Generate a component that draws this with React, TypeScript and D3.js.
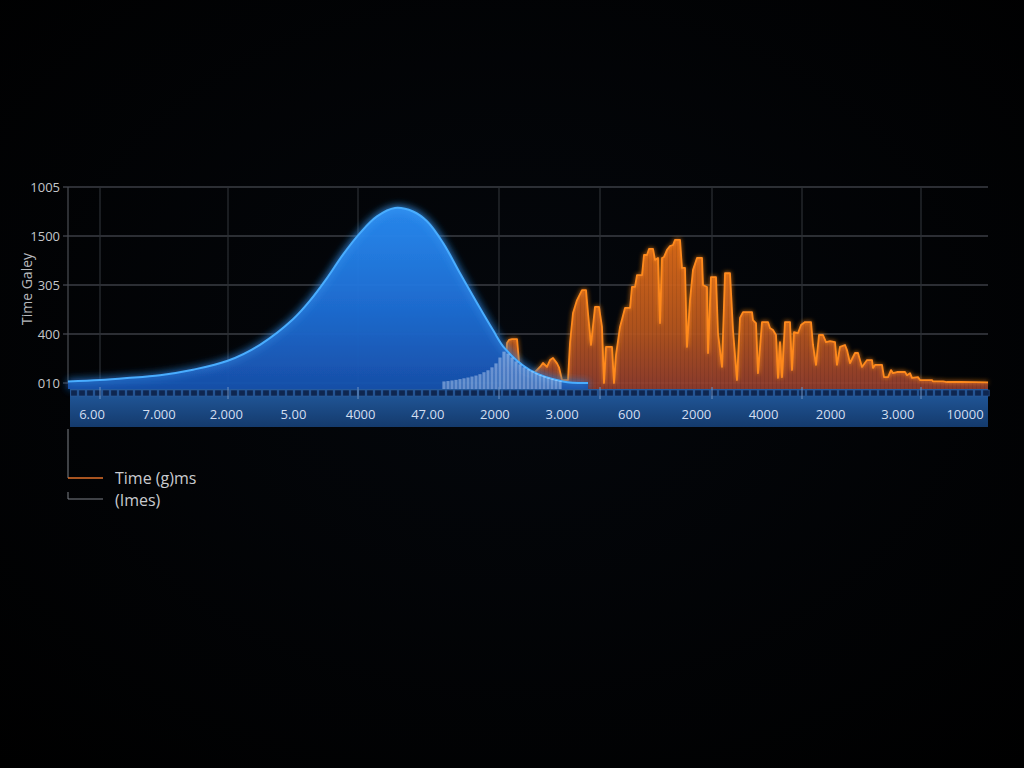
import React, { useEffect } from "react";
import * as d3 from "d3";

const W = 1024;
const H = 768;

// y gridline values and their (odd) labels, bottom to top
const yTickValues = [0, 25, 50, 75, 100];
const yTickLabels = ["010", "400", "305", "1500", "1005"];

// x axis category labels in the blue band
const xTickLabels = ["6.00", "7.000", "2.000", "5.00", "4000", "47.00", "2000", "3.000", "600", "2000", "4000", "2000", "3.000", "10000"];

// vertical gridline positions (time units)
const xGridValues = [32, 160, 290, 431, 532, 644, 734, 853];

// blue distribution curve: [time, value]
const blueX = [0, 32, 59, 92, 125, 159, 192, 225, 242, 259, 275, 292, 309, 327, 345, 359, 375, 392, 409, 425, 437, 462, 495, 520];
const blueY = [0.8, 1.5, 2.5, 4, 6.8, 11.2, 19.5, 32.5, 42, 53.5, 65.5, 76.5, 85, 89.3, 87.5, 82.5, 71.5, 56, 40.8, 27, 17.5, 6.6, 0.8, 0];

// pale overlap bars under the blue tail
const overlapX = [376, 380, 384, 388, 392, 396, 400, 404, 408, 412, 416, 420, 424, 428, 432, 436, 440, 444, 448, 452, 456, 460, 464, 468, 472, 476, 480, 484, 488, 492];
const overlapY = [0.8, 1, 1.3, 1.6, 2, 2.4, 2.8, 3.3, 3.8, 4.5, 5.5, 6.5, 8, 10, 13, 16, 15, 13, 11, 9.5, 8, 7, 6, 5, 4.2, 3.5, 2.8, 2.2, 1.6, 1.1];

// orange spiky series: [time, value]
const orangeX = [437, 439, 441, 444, 449, 452, 462, 472, 475, 479, 482, 485, 489, 491, 494, 500, 502, 505, 509, 514, 518, 520, 523, 527, 531, 534, 536, 538, 544, 546, 548, 552, 557, 562, 564, 567, 569, 574, 576, 579, 581, 585, 587, 590, 592, 594, 596, 599, 602, 605, 607, 612, 614, 617, 619, 622, 625, 629, 634, 635, 639, 640, 643, 648, 650, 654, 657, 662, 665, 669, 672, 675, 684, 685, 688, 690, 694, 700, 702, 705, 708, 710, 712, 714, 717, 722, 724, 726, 730, 733, 737, 743, 745, 748, 751, 755, 758, 762, 767, 769, 772, 777, 779, 782, 787, 790, 794, 799, 804, 805, 807, 814, 816, 820, 823, 825, 829, 837, 839, 842, 844, 850, 852, 864, 865, 875, 879, 892, 907, 920];
const orangeY = [0, 20.4, 22, 22.4, 22.4, 5, 3, 8.2, 10.2, 8.2, 11.7, 12.8, 10, 8, 1.5, 1.5, 20.4, 35.7, 42.3, 47.4, 47.4, 35.7, 19.4, 38.8, 38.8, 28.6, 0, 18.4, 18.4, 0, 14.3, 28.6, 38.3, 38.3, 49, 49, 55, 55, 65.3, 65.3, 68.4, 68.4, 62.8, 63.8, 30.6, 63.8, 64.3, 67.9, 69.9, 70.4, 73, 73, 58.7, 58.7, 18.4, 42.3, 57.7, 63.8, 63.8, 50, 49, 15.3, 54, 54, 25.5, 8.2, 56, 56, 27, 1.5, 33.2, 36.2, 36.2, 32.1, 30.6, 5, 31.1, 31.1, 28, 27, 24.5, 2.6, 20.9, 3, 31.1, 31.1, 6.6, 26, 25.5, 29.6, 31.1, 31.1, 19.4, 9.2, 24.5, 24.5, 20.9, 21.4, 20.9, 9.2, 18.4, 19.4, 16.8, 10.2, 15.3, 15.3, 8.2, 11.7, 11.7, 7.7, 9.2, 9.2, 3, 3, 6.6, 5, 5.6, 5.6, 4, 5, 2.6, 3, 1.5, 1.5, 0.8, 0.8, 0.5, 0.6, 0.4, 0.3];

const legendLabels = ["Time (g)ms", "(Imes)"];
const yTitle = "Time Galey";

const x = d3.scaleLinear().domain([0, 920]).range([68, 988]);
const y = d3.scaleLinear().domain([0, 100]).range([383, 187]);
const xLabel = d3.scalePoint<number>().domain(d3.range(xTickLabels.length)).range([x(24), x(897)]);

const STRIP_TOP = 389;
const STRIP_CELL_BOTTOM = 397;
const STRIP_BOTTOM = 427;

export default function App() {
  useEffect(() => {
    document.body.style.margin = "0";
    document.body.style.background = "#000";
  }, []);

  const blueData = blueX.map((t, i) => [t, blueY[i]] as [number, number]);
  const orangeData = orangeX.map((t, i) => [t, orangeY[i]] as [number, number]);

  const smooth = d3.curveCatmullRom.alpha(0.5);
  const blueArea = d3.area<[number, number]>().x(d => x(d[0])).y0(STRIP_TOP).y1(d => y(d[1])).curve(smooth)(blueData) || "";
  const blueLine = d3.line<[number, number]>().x(d => x(d[0])).y(d => y(d[1])).curve(smooth)(blueData) || "";
  const orangeArea = d3.area<[number, number]>().x(d => x(d[0])).y0(STRIP_TOP).y1(d => y(d[1])).curve(d3.curveLinear)(orangeData) || "";
  const orangeLine = d3.line<[number, number]>().x(d => x(d[0])).y(d => y(d[1])).curve(d3.curveLinear)(orangeData) || "";

  const cellW = 8;
  const cells = d3.range(70, 988, cellW);
  const font = "'Open Sans', 'Noto Sans', sans-serif";

  return (
    <div style={{ position: "absolute", left: 0, top: 0, width: W, height: H, background: "#000" }}>
      <svg width={W} height={H} style={{ display: "block" }}>
        <defs>
          <radialGradient id="bg" cx="50%" cy="45%" r="75%">
            <stop offset="0%" stopColor="#04070c" />
            <stop offset="100%" stopColor="#000000" />
          </radialGradient>
          <linearGradient id="blueFill" gradientUnits="userSpaceOnUse" x1="0" y1={y(90)} x2="0" y2={STRIP_TOP}>
            <stop offset="0%" stopColor="#2a8df5" />
            <stop offset="55%" stopColor="#1f6fd6" />
            <stop offset="100%" stopColor="#1852ae" />
          </linearGradient>
          <linearGradient id="orangeFill" gradientUnits="userSpaceOnUse" x1="0" y1={y(73)} x2="0" y2={STRIP_TOP}>
            <stop offset="0%" stopColor="#dc6a18" stopOpacity="0.95" />
            <stop offset="60%" stopColor="#bb581e" stopOpacity="0.92" />
            <stop offset="100%" stopColor="#963f30" stopOpacity="0.9" />
          </linearGradient>
          <linearGradient id="strip" x1="0" y1="0" x2="0" y2="1">
            <stop offset="0%" stopColor="#225a9e" />
            <stop offset="100%" stopColor="#143a6c" />
          </linearGradient>
          <pattern id="stripes" width="4" height="10" patternUnits="userSpaceOnUse">
            <rect x="0" y="0" width="1" height="10" fill="#000" opacity="0.08" />
          </pattern>
          <filter id="glowBlue" x="-20%" y="-20%" width="140%" height="140%">
            <feGaussianBlur stdDeviation="4" result="b" />
            <feMerge>
              <feMergeNode in="b" />
              <feMergeNode in="SourceGraphic" />
            </feMerge>
          </filter>
          <filter id="glowOrange" x="-10%" y="-20%" width="120%" height="140%">
            <feGaussianBlur stdDeviation="2" result="b" />
            <feMerge>
              <feMergeNode in="b" />
              <feMergeNode in="SourceGraphic" />
            </feMerge>
          </filter>
        </defs>

        <rect x={0} y={0} width={W} height={H} fill="url(#bg)" />

        {/* horizontal gridlines */}
        {yTickValues.map((v, i) => (
          <g key={"yg" + i}>
            <line x1={x(0) - 5} x2={x(920)} y1={y(v)} y2={y(v)} stroke="#3b3e44" strokeWidth={1.3} />
            <text x={60} y={y(v)} dy="0.35em" textAnchor="end" fill="#c4c6ca" fontSize={13} fontFamily={font}>
              {yTickLabels[i]}
            </text>
          </g>
        ))}
        {/* vertical gridlines */}
        {xGridValues.map((v, i) => (
          <line key={"xg" + i} x1={x(v)} x2={x(v)} y1={y(100)} y2={y(0)} stroke="#2c2f35" strokeWidth={1.2} />
        ))}
        <line x1={x(0)} x2={x(0)} y1={y(100)} y2={y(0)} stroke="#45484e" strokeWidth={1.3} />

        <text transform={`translate(27,${(y(0) + y(100)) / 2 + 4}) rotate(-90)`} textAnchor="middle" dy="0.35em" fill="#b8babe" fontSize={14} fontFamily={font}>
          {yTitle}
        </text>

        {/* orange series */}
        <path d={orangeArea} fill="url(#orangeFill)" />
        <path d={orangeArea} fill="url(#stripes)" />
        <path d={orangeLine} fill="none" stroke="#ff8a1e" strokeWidth={1.8} strokeLinejoin="round" filter="url(#glowOrange)" />

        {/* blue series */}
        <path d={blueArea} fill="url(#blueFill)" opacity={0.96} filter="url(#glowBlue)" />
        <path d={blueLine} fill="none" stroke="#49adff" strokeWidth={2} filter="url(#glowBlue)" />

        {/* pale overlap bars */}
        {overlapX.map((t, i) => (
          <rect key={"ov" + i} x={x(t) - 1.6} width={3.2} y={y(overlapY[i])} height={STRIP_TOP - y(overlapY[i])} fill="#dbe9ff" opacity={0.42} />
        ))}

        {/* axis strip */}
        <rect x={70} y={STRIP_TOP} width={918} height={STRIP_BOTTOM - STRIP_TOP} fill="url(#strip)" />
        {cells.map((cx, i) => (
          <rect key={"c" + i} x={cx + 0.8} y={STRIP_TOP + 1} width={cellW - 1.6} height={STRIP_CELL_BOTTOM - STRIP_TOP - 2} fill="#0e2650" stroke="#2f5e9e" strokeWidth={0.6} />
        ))}
        {xGridValues.map((v, i) => (
          <line key={"st" + i} x1={x(v)} x2={x(v)} y1={STRIP_TOP - 2} y2={STRIP_CELL_BOTTOM + 2} stroke="#6f93c4" strokeWidth={1} />
        ))}
        {xTickLabels.map((lab, i) => (
          <text key={"xl" + i} x={xLabel(i)} y={414} dy="0.35em" textAnchor="middle" fill="#d3def0" fontSize={13} fontFamily={font}>
            {lab}
          </text>
        ))}

        {/* legend */}
        <line x1={68} x2={68} y1={STRIP_BOTTOM + 2} y2={478} stroke="#6a6d72" strokeWidth={1.2} />
        <line x1={68} x2={103} y1={478} y2={478} stroke="#e0702a" strokeWidth={1.5} />
        <line x1={68} x2={68} y1={492} y2={499} stroke="#6a6d72" strokeWidth={1.2} />
        <line x1={68} x2={103} y1={499} y2={499} stroke="#7d8088" strokeWidth={1.2} />
        <text x={115} y={478} dy="0.35em" fill="#c9cbcf" fontSize={16} fontFamily={font}>{legendLabels[0]}</text>
        <text x={115} y={500} dy="0.35em" fill="#c9cbcf" fontSize={16} fontFamily={font}>{legendLabels[1]}</text>
      </svg>
    </div>
  );
}
